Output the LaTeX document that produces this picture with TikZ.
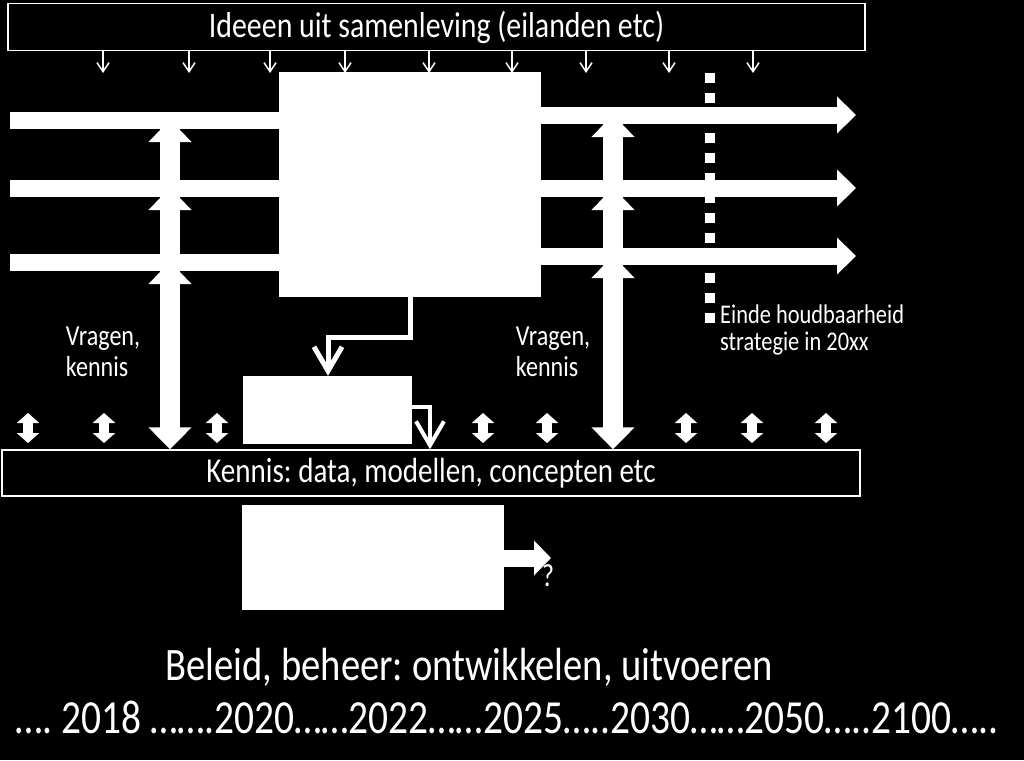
\documentclass[tikz,border=0pt]{standalone}
\usepackage{fontspec}
\setmainfont[FakeStretch=0.83]{Carlito}
\usetikzlibrary{arrows.meta}
\frenchspacing

\tikzset{
  wbox/.style={fill=white, draw=white, inner sep=0pt},
  kader/.style={draw=white, line width=1.5pt, fill=black, text=white, inner sep=0pt},
  tekst/.style={text=white, inner sep=0pt},
  stroom/.style={white, line width=17pt, -{Triangle[width=36pt, length=19pt]}},
  stroomin/.style={white, line width=17pt},
  vraagpijl/.style={white, line width=20pt, -{Triangle[width=42pt, length=22pt]}},
  dunpijl/.style={white, line width=1.5pt, -{Straight Barb[width=12pt, length=9pt]}},
  heenweer/.style={white, line width=10pt, {Triangle[width=22pt, length=10pt]}-{Triangle[width=22pt, length=10pt]}},
  koppel/.style={white, line width=5pt, -{Straight Barb[width=28pt, length=24pt]}},
  stippel/.style={white, line width=10pt, dash pattern=on 10pt off 10pt}
}

\begin{document}
\begin{tikzpicture}[x=1pt, y=-1pt]

\fill[black] (0,0) rectangle (1024,760);
\useasboundingbox (0,0) rectangle (1024,760);

% boxes
\node[kader, minimum width=857pt, minimum height=47pt, font=\fontsize{36}{40}\selectfont] (ideeen) at (436.5,27) {Ideeen uit samenleving (eilanden etc)};
\node[kader, minimum width=858pt, minimum height=46pt, font=\fontsize{35}{40}\selectfont] (kennis) at (431,473) {Kennis: data, modellen, concepten etc};

% free ends
\coordinate (inL1) at (10,120);
\coordinate (inL2) at (10,188);
\coordinate (inL3) at (10,262);
\coordinate (outR1) at (856,115);
\coordinate (outR2) at (856,188);
\coordinate (outR3) at (856,256);
\coordinate (vL) at (170,400);
\coordinate (vR) at (613,400);

% vragen, kennis (drawn first, the streams go over them)
\draw[vraagpijl] (vL) -- (vL |- inL1);
\draw[vraagpijl] (vL) -- (vL |- inL2);
\draw[vraagpijl] (vL) -- (vL |- inL3);
\draw[vraagpijl] (vL |- inL1) -- (vL |- kennis.north);
\draw[vraagpijl] (vR) -- (vR |- outR1);
\draw[vraagpijl] (vR) -- (vR |- outR2);
\draw[vraagpijl] (vR) -- (vR |- outR3);
\draw[vraagpijl] (vR |- outR1) -- (vR |- kennis.north);

\node[wbox, minimum width=261pt, minimum height=224pt] (kern) at (409.5,184) {};

\draw[stroomin] (inL1) -- (inL1 -| kern.west);
\draw[stroomin] (inL2) -- (inL2 -| kern.west);
\draw[stroomin] (inL3) -- (inL3 -| kern.west);
\draw[stroom] (outR1 -| kern.east) -- (outR1);
\draw[stroom] (outR2 -| kern.east) -- (outR2);
\draw[stroom] (outR3 -| kern.east) -- (outR3);

% ideeen naar beneden
\foreach \x in {103,189,270,345,429,512,586,669,753}
  \draw[dunpijl] (ideeen.south -| \x,0) -- (\x,73);

% einde houdbaarheid
\draw[stippel] (710,73) -- (710,323);
\node[tekst, anchor=north west, align=left, font=\fontsize{27}{27}\selectfont] (einde) at (720,305) {Einde houdbaarheid\\strategie in 20xx};

\node[tekst, align=left, font=\fontsize{29}{31}\selectfont] (vragenL) at (103,352) {Vragen,\\kennis};
\node[tekst, align=left, font=\fontsize{29}{31}\selectfont] (vragenR) at (553,352) {Vragen,\\kennis};

% kleine box en koppelingen
\node[wbox, minimum width=168pt, minimum height=67pt] (klein) at (327,409.5) {};
\coordinate (b1) at (410,337);
\coordinate (b2) at (328,337);
\draw[koppel, line join=miter] (kern.south -| b1) -- (b1) -- (b2) -- (klein.north -| b2);
\coordinate (b3) at (430,407);
\draw[koppel, line width=4pt, line join=miter] (klein.east |- b3) -- (b3) -- (b3 |- kennis.north);

\foreach \x in {28,104,217,483,547,686,752,826}
  \draw[heenweer] (\x,413) -- (\x,443);

% beleid
\node[wbox, minimum width=261pt, minimum height=104pt] (beleid) at (372.5,557) {};
\coordinate (vraag) at (551,558);
\draw[stroom, -{Triangle[width=34pt, length=17pt]}] (beleid.east |- vraag) -- (vraag);
\node[tekst, font=\fontsize{32}{34}\selectfont] (vraagteken) at (548,576) {?};

\node[tekst, font=\fontsize{46.5}{50}\selectfont] (beleidtekst) at (469,667) {Beleid, beheer: ontwikkelen, uitvoeren};
\node[tekst, font=\fontsize{47.5}{50}\selectfont] (jaren) at (507,717) {…. 2018 …….2020……2022……2025…..2030……2050…..2100…..};

\end{tikzpicture}
\end{document}
